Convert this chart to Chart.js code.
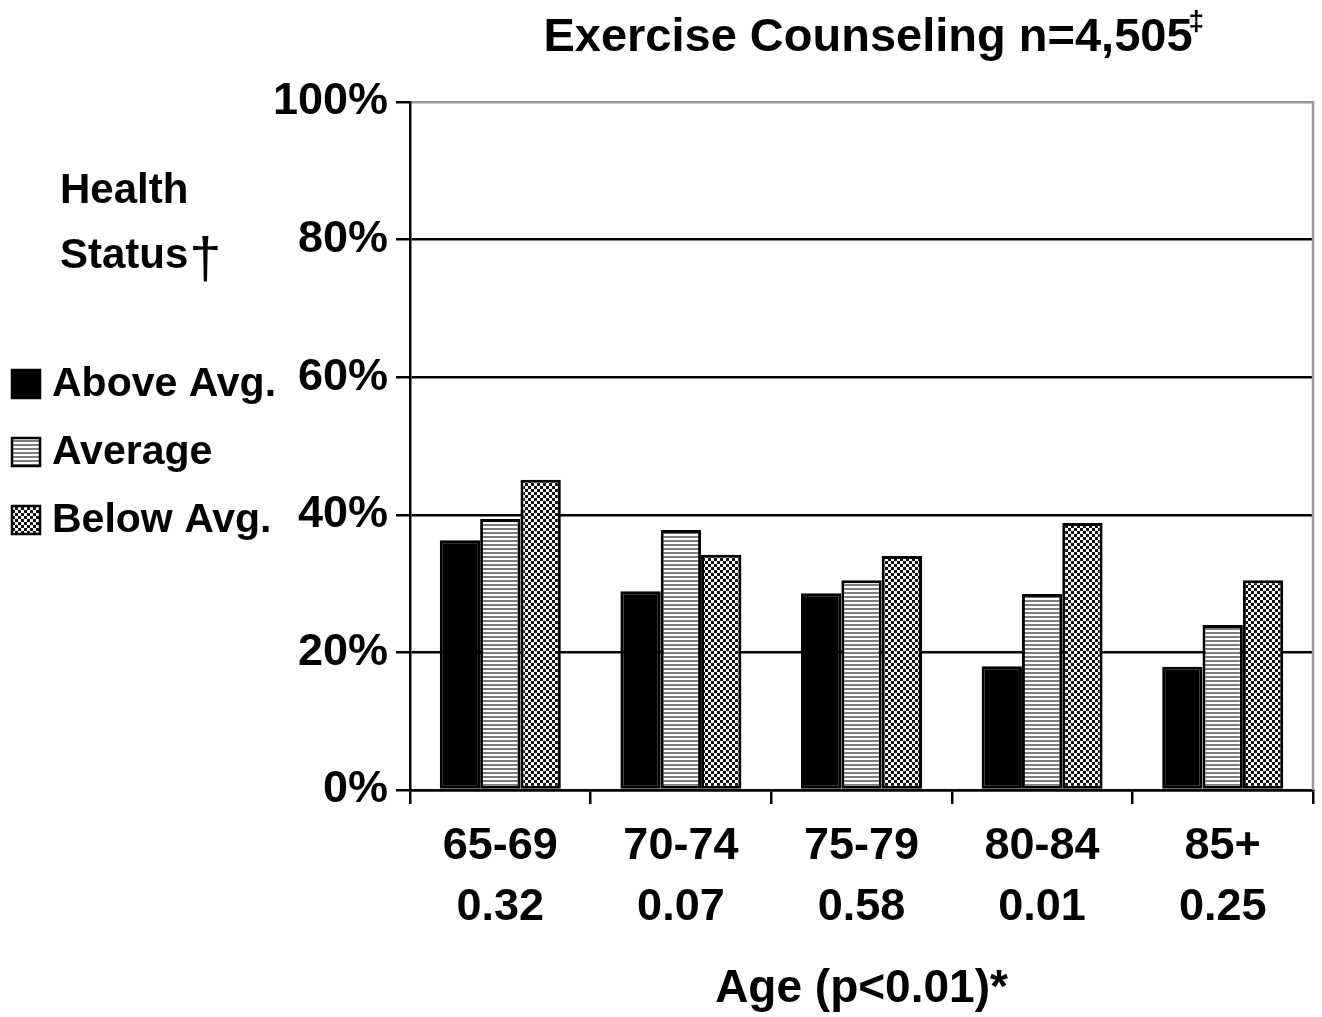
<!DOCTYPE html>
<html>
<head>
<meta charset="utf-8">
<script src="https://cdn.jsdelivr.net/npm/chart.js@4.4.1/dist/chart.umd.min.js"></script>
<style>
  body { margin: 0; background: #fff; }
</style>
</head>
<body>
<canvas id="myChart" width="1322" height="1017"></canvas>
<script>
// data
var ageGroups = ['65-69', '70-74', '75-79', '80-84', '85+'];
var pValues = ['0.32', '0.07', '0.58', '0.01', '0.25'];
var aboveAvg = [36.3, 28.9, 28.6, 18.0, 17.9];
var average = [39.4, 37.8, 30.5, 28.5, 24.0];
var belowAvg = [45.1, 34.2, 34.0, 38.8, 30.5];
var yTicks = [0, 20, 40, 60, 80, 100];

var FONT = "'Liberation Sans', Arial, sans-serif";

function makeStripes() {
    var c = document.createElement('canvas');
    c.width = 4; c.height = 4;
    var g = c.getContext('2d');
    g.fillStyle = '#fff';
    g.fillRect(0, 0, 4, 4);
    g.fillStyle = '#7c7c7c';
    g.fillRect(0, 0, 4, 2);
    return g.createPattern(c, 'repeat');
}

function makeChecker() {
    var c = document.createElement('canvas');
    c.width = 6; c.height = 6;
    var g = c.getContext('2d');
    g.fillStyle = '#fff';
    g.fillRect(0, 0, 6, 6);
    g.fillStyle = '#111';
    g.fillRect(0, 0, 3, 3);
    g.fillRect(3, 3, 3, 3);
    return g.createPattern(c, 'repeat');
}

var labels = ageGroups.map(function (a, i) { return [a, pValues[i]]; });

// title, legend on the left, right frame line
var decor = {
    id: 'decor',
    afterDraw: function (chart) {
        var ctx = chart.ctx;
        var area = chart.chartArea;
        ctx.save();

        // right frame
        ctx.strokeStyle = '#999';
        ctx.lineWidth = 2.5;
        ctx.beginPath();
        ctx.moveTo(area.right, area.top - 1);
        ctx.lineTo(area.right, area.bottom);
        ctx.stroke();

        // title
        ctx.fillStyle = '#000';
        ctx.font = 'bold 47px ' + FONT;
        ctx.textBaseline = 'middle';
        var t = 'Exercise Counseling n=4,505';
        var w = ctx.measureText(t).width;
        var x0 = 868 - w / 2;
        ctx.textAlign = 'left';
        ctx.fillText(t, x0, 38);
        ctx.font = 'bold 28px ' + FONT;
        ctx.fillText('\u2021', x0 + w - 4, 22);

        // legend heading
        ctx.font = 'bold 42px ' + FONT;
        ctx.fillText('Health', 60, 191);
        ctx.fillText('Status', 60, 256);
        var sw = ctx.measureText('Status').width;
        ctx.font = '58px ' + FONT;
        ctx.fillText('\u2020', 60 + sw + 1, 262);

        // legend items
        var ys = [384, 452, 520];
        chart.data.datasets.forEach(function (ds, i) {
            var y = ys[i];
            ctx.fillStyle = ds.backgroundColor;
            ctx.fillRect(12, y - 14, 28, 28);
            ctx.strokeStyle = '#000';
            ctx.lineWidth = 2.5;
            ctx.strokeRect(12, y - 14, 28, 28);
            ctx.fillStyle = '#000';
            ctx.font = 'bold 41px ' + FONT;
            ctx.fillText(ds.label, 52, y + 1);
        });
        ctx.restore();
    }
};

var ctx = document.getElementById('myChart').getContext('2d');
var myChart = new Chart(ctx, {
    type: 'bar',
    data: {
        labels: labels,
        datasets: [{
            label: 'Above Avg.',
            data: aboveAvg,
            backgroundColor: '#000',
            borderColor: '#000',
            borderWidth: 3
        }, {
            label: 'Average',
            data: average,
            backgroundColor: makeStripes(),
            borderColor: '#000',
            borderWidth: 3
        }, {
            label: 'Below Avg.',
            data: belowAvg,
            backgroundColor: makeChecker(),
            borderColor: '#000',
            borderWidth: 3
        }]
    },
    options: {
        responsive: false,
        animation: false,
        layout: { padding: { top: 102, right: 9, left: 0, bottom: 0 } },
        datasets: { bar: { categoryPercentage: 0.67, barPercentage: 1.0, borderSkipped: false } },
        plugins: {
            legend: { display: false },
            tooltip: { enabled: false }
        },
        scales: {
            x: {
                afterFit: function (scale) { scale.height = 227; },
                grid: {
                    offset: true,
                    drawOnChartArea: false,
                    color: '#000',
                    lineWidth: 2.5,
                    tickLength: 14
                },
                border: { color: '#000', width: 2.5 },
                ticks: {
                    color: '#000',
                    padding: 12,
                    font: { family: FONT, size: 45, weight: 'bold', lineHeight: 1.36 }
                },
                title: {
                    display: true,
                    text: 'Age (p<0.01)*',
                    color: '#000',
                    padding: 0,
                    font: { family: FONT, size: 46, weight: 'bold' }
                }
            },
            y: {
                min: 0,
                max: 100,
                afterFit: function (scale) { scale.width = 410; },
                afterBuildTicks: function (scale) {
                    scale.ticks = yTicks.map(function (v) { return { value: v }; });
                },
                grid: {
                    color: function (c) { return c.tick && c.tick.value === 100 ? '#999' : '#000'; },
                    tickColor: '#000',
                    lineWidth: 2.5,
                    tickLength: 14
                },
                border: { color: '#000', width: 2.5 },
                ticks: {
                    color: '#000',
                    padding: 8,
                    font: { family: FONT, size: 45, weight: 'bold' },
                    callback: function (v) { return v + '%'; }
                }
            }
        }
    },
    plugins: [decor]
});
</script>
</body>
</html>
